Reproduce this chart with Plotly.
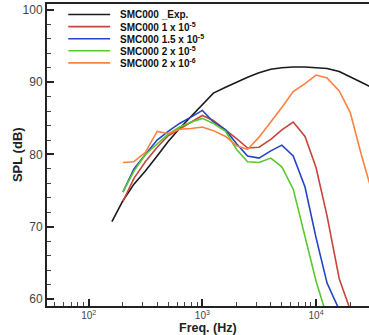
import plotly.graph_objects as go

# One-third octave band centre frequencies (Hz)
freq = [160, 200, 250, 315, 400, 500, 630, 800, 1000, 1250, 1600, 2000,
        2500, 3150, 4000, 5000, 6300, 8000, 10000, 12500, 16000, 20000,
        25000, 31500]

# SPL spectra (dB)
spl_exp = [70.7, 73.6, 75.9, 77.7, 79.8, 81.8, 83.6, 85.3, 87.0, 88.5, 89.3,
           90.0, 90.7, 91.3, 91.8, 92.0, 92.1, 92.1, 92.0, 91.9, 91.5, 90.8,
           90.0, 89.2]
spl_1e5 = [None, 73.5, 76.7, 79.0, 81.0, 82.6, 83.5, 84.5, 85.4, 84.7, 83.4,
           82.2, 80.9, 81.0, 82.1, 83.4, 84.5, 82.5, 78.2, 71.5, 62.8, 58.5,
           None, None]
spl_15e5 = [None, 74.8, 78.0, 80.0, 82.0, 83.2, 84.3, 85.2, 86.1, 84.5, 83.4,
            81.5, 79.8, 79.5, 80.5, 81.3, 79.8, 75.5, 68.5, 62.2, 58.5, None,
            None, None]
spl_2e5 = [None, 74.8, 77.7, 80.0, 81.5, 82.8, 83.8, 84.5, 85.0, 84.3, 83.2,
           80.7, 79.0, 78.9, 79.5, 78.3, 75.2, 68.8, 62.5, 57.5, None, None,
           None, None]
spl_2e6 = [None, 78.9, 79.0, 80.3, 83.2, 82.9, 83.5, 83.6, 83.8, 83.3, 82.5,
           81.2, 80.7, 82.4, 84.5, 86.5, 88.7, 89.8, 91.0, 90.6, 88.8, 85.8,
           80.0, 74.5]

names = ["SMC000 _Exp.",
         "SMC000 1 x 10<sup>-5</sup>",
         "SMC000 1.5 x 10<sup>-5</sup>",
         "SMC000 2 x 10<sup>-5</sup>",
         "SMC000 2 x 10<sup>-6</sup>"]
series = [spl_exp, spl_1e5, spl_15e5, spl_2e5, spl_2e6]
colors = ["#1a1a1a", "#c9443a", "#2443c8", "#58c92c", "#ff8040"]

x_tickvals = [100, 1000, 10000]
x_ticktext = ["10<sup>2</sup>", "10<sup>3</sup>", "10<sup>4</sup>"]
y_tickvals = [60, 70, 80, 90, 100]

fig = go.Figure()
for name, ys, col in zip(names, series, colors):
    fig.add_trace(go.Scatter(x=freq, y=ys, mode="lines", name=name,
                             line=dict(color=col, width=1.6),
                             connectgaps=False, showlegend=False))

# Compact legend in the upper-left corner of the plot area
row_top = 0.965
row_step = 0.04
for i, (name, col) in enumerate(zip(names, colors)):
    yy = row_top - i * row_step
    fig.add_shape(type="line", xref="paper", yref="paper",
                  x0=0.066, x1=0.196, y0=yy, y1=yy,
                  line=dict(color=col, width=1.6))
    fig.add_annotation(xref="paper", yref="paper", x=0.222, y=yy,
                       text="<b>" + name + "</b>", showarrow=False,
                       xanchor="left", yanchor="middle",
                       font=dict(family="Liberation Sans, Arial", size=10,
                                 color="#111"))

# Axis titles
fig.add_annotation(xref="paper", yref="paper", x=0.5, y=-0.1,
                   text="<b>Freq. (Hz)</b>", showarrow=False,
                   xanchor="center", yanchor="bottom", borderpad=0,
                   font=dict(family="Liberation Sans, Arial", size=12.5,
                             color="#222"))
fig.add_annotation(xref="paper", yref="paper", x=-0.093, y=0.5,
                   text="<b>SPL (dB)</b>", showarrow=False, textangle=-90,
                   xanchor="center", yanchor="middle",
                   font=dict(family="Liberation Sans, Arial", size=13,
                             color="#222"))

minor_x = [m * 10 ** e for e in (1, 2, 3, 4) for m in range(2, 10)]

fig.update_layout(
    width=369, height=335,
    margin=dict(l=47, r=0, t=4, b=29),
    paper_bgcolor="white", plot_bgcolor="white",
    font=dict(family="Liberation Sans, Arial", color="#333"),
    xaxis=dict(
        type="log", range=[1.633, 4.466],
        tickmode="array", tickvals=x_tickvals, ticktext=x_ticktext,
        ticks="inside", ticklen=7, tickwidth=1.5, tickcolor="#222",
        ticklabelstandoff=-1,
        showgrid=False, zeroline=False,
        showline=True, linecolor="#222", linewidth=2, mirror=True,
        tickfont=dict(size=10, color="#444"),
        minor=dict(tickmode="array", tickvals=minor_x, ticks="inside",
                   ticklen=4, tickcolor="#444", tickwidth=1, showgrid=False),
    ),
    yaxis=dict(
        range=[59.03, 100.83],
        tickmode="array", tickvals=y_tickvals,
        ticks="inside", ticklen=7, tickwidth=1.5, tickcolor="#222",
        showgrid=False, zeroline=False,
        showline=True, linecolor="#222", linewidth=2, mirror=False,
        tickfont=dict(size=12, color="#444"),
        minor=dict(dtick=2, ticks="inside", ticklen=4, tickcolor="#444",
                   tickwidth=1, showgrid=False),
    ),
)

fig.write_html("out.html")
